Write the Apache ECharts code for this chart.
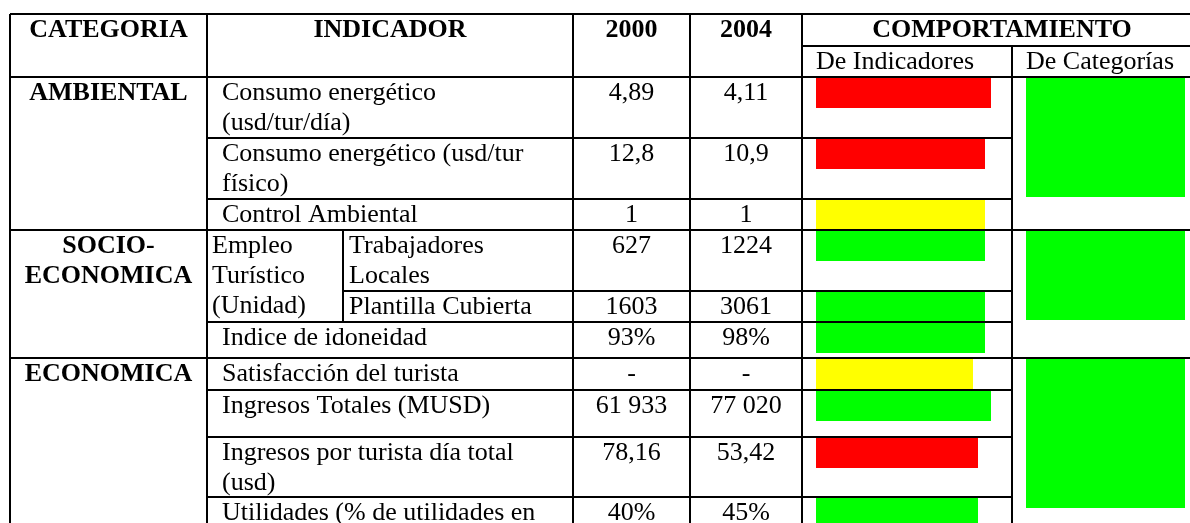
<!DOCTYPE html>
<html>
<head>
<meta charset="utf-8">
<title>Comportamiento de indicadores</title>
<script src="https://cdn.jsdelivr.net/npm/echarts@6/dist/echarts.min.js"></script>
<style>
  html, body { margin: 0; padding: 0; background: #fff; }
  #chart { width: 1190px; height: 523px; }
</style>
</head>
<body>
<div id="chart"></div>
<script>
// ---- datos de la tabla ----
const headers = ['CATEGORIA', 'INDICADOR', '2000', '2004', 'COMPORTAMIENTO'];
const subHeaders = ['De Indicadores', 'De Categorías'];
const categories = ['AMBIENTAL', 'SOCIO-\nECONOMICA', 'ECONOMICA'];
const categoryFirstRow = [0, 3, 6];
const categoryStatus = ['verde', 'verde', 'verde'];
const groupLabel = 'Empleo\nTurístico\n(Unidad)';
const indicators = [
  'Consumo energético\n(usd/tur/día)',
  'Consumo energético (usd/tur\nfísico)',
  'Control Ambiental',
  'Trabajadores\nLocales',
  'Plantilla Cubierta',
  'Indice de idoneidad',
  'Satisfacción del turista',
  'Ingresos Totales (MUSD)',
  'Ingresos por turista día total\n(usd)',
  'Utilidades (% de utilidades en'
];
const values2000 = ['4,89', '12,8', '1', '627', '1603', '93%', '-', '61 933', '78,16', '40%'];
const values2004 = ['4,11', '10,9', '1', '1224', '3061', '98%', '-', '77 020', '53,42', '45%'];
const indicatorStatus = ['rojo', 'rojo', 'amarillo', 'verde', 'verde', 'verde', 'amarillo', 'verde', 'rojo', 'verde'];
const indicatorBar = [175, 169, 169, 169, 169, 169, 157, 175, 162, 162];

// ---- maquetación (px) ----
const W = 1190, H = 523;
const colorOf = { rojo: '#ff0000', amarillo: '#ffff00', verde: '#00ff00' };
const rowTop = [77, 138, 199, 230, 291, 322, 358, 390, 437, 497];
const indicatorX = [222, 222, 222, 349, 349, 222, 222, 222, 222, 222];
const barX = 816;
const catBlock = [[78, 197], [230, 320], [359, 508]];
const catBlockX = [1026, 1185];
const hLines = [
  [14, 10, W], [46, 802, W], [77, 10, W], [138, 207, 1012], [199, 207, 1012],
  [230, 10, W], [291, 343, 1012], [322, 207, 1012], [358, 10, W],
  [390, 207, 1012], [437, 207, 1012], [497, 207, 1012]
];
const vLines = [
  [10, 14, H], [207, 14, H], [343, 230, 322], [573, 14, H],
  [690, 14, H], [802, 14, H], [1012, 46, H]
];

const regular = '26px "Liberation Serif"';
const bold = 'bold 26px "Liberation Serif"';

const cells = [];
const headerX = [108.5, 390, 631.5, 746, 1002];
headers.forEach((t, i) => cells.push([headerX[i], 15, t, 'center', bold]));
cells.push([816, 47, subHeaders[0], 'left', regular]);
cells.push([1026, 47, subHeaders[1], 'left', regular]);
categories.forEach((t, k) => cells.push([108.5, rowTop[categoryFirstRow[k]] + 1, t, 'center', bold]));
cells.push([212, rowTop[3] + 1, groupLabel, 'left', regular]);
indicators.forEach((t, i) => {
  cells.push([indicatorX[i], rowTop[i] + 1, t, 'left', regular]);
  cells.push([631.5, rowTop[i] + 1, values2000[i], 'center', regular]);
  cells.push([746, rowTop[i] + 1, values2004[i], 'center', regular]);
});

const chart = echarts.init(document.getElementById('chart'));
chart.setOption({
  animation: false,
  backgroundColor: '#fff',
  grid: { left: 0, right: 0, top: 0, bottom: 0 },
  xAxis: { type: 'value', min: 0, max: W, show: false },
  yAxis: { type: 'value', min: 0, max: H, inverse: true, show: false },
  series: [
    {
      name: 'De Indicadores',
      type: 'custom',
      data: indicatorBar.map((v, i) => [i, v]),
      renderItem: (params, api) => {
        const i = api.value(0);
        const p0 = api.coord([barX, rowTop[i] + 1]);
        const p1 = api.coord([barX + api.value(1), rowTop[i] + 31]);
        return {
          type: 'rect',
          shape: { x: p0[0], y: p0[1], width: p1[0] - p0[0], height: p1[1] - p0[1] },
          style: { fill: colorOf[indicatorStatus[i]] }
        };
      }
    },
    {
      name: 'De Categorías',
      type: 'custom',
      data: catBlock.map((b, k) => [k, b[0], b[1]]),
      renderItem: (params, api) => {
        const k = api.value(0);
        const p0 = api.coord([catBlockX[0], api.value(1)]);
        const p1 = api.coord([catBlockX[1], api.value(2)]);
        return {
          type: 'rect',
          shape: { x: p0[0], y: p0[1], width: p1[0] - p0[0], height: p1[1] - p0[1] },
          style: { fill: colorOf[categoryStatus[k]] }
        };
      }
    },
    {
      name: 'bordes',
      type: 'custom',
      z: 3,
      data: hLines.map(l => [0, l[0], l[1], l[2]]).concat(vLines.map(l => [1, l[0], l[1], l[2]])),
      renderItem: (params, api) => {
        const vert = api.value(0) === 1;
        const a = api.value(1), b = api.value(2), c = api.value(3);
        const p0 = vert ? api.coord([a, b]) : api.coord([b, a]);
        const p1 = vert ? api.coord([a, c]) : api.coord([c, a]);
        return {
          type: 'line',
          shape: { x1: p0[0], y1: p0[1], x2: p1[0], y2: p1[1] },
          style: { stroke: '#000', lineWidth: 2 }
        };
      }
    },
    {
      name: 'textos',
      type: 'custom',
      z: 4,
      data: cells.map((c, i) => [c[0], c[1], i]),
      renderItem: (params, api) => {
        const c = cells[api.value(2)];
        const p = api.coord([api.value(0), api.value(1)]);
        return {
          type: 'text',
          x: p[0],
          y: p[1],
          style: {
            text: c[2],
            font: c[4],
            fill: '#000',
            align: c[3],
            verticalAlign: 'top',
            lineHeight: 30
          }
        };
      }
    }
  ]
});
</script>
</body>
</html>
